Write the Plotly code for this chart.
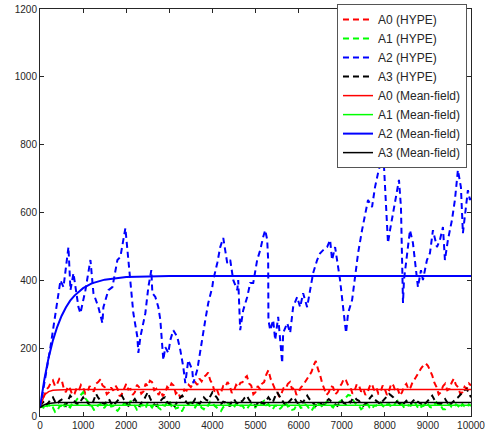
import plotly.graph_objects as go

# ---- stochastic (HYPE) trajectories, 50-step sampling ----
t_hype = list(range(0, 10001, 50))

a0_hype = [25, 48, 60, 78, 85, 98, 105, 88, 95, 110, 108, 82, 70, 88, 80, 62, 65, 82, 75, 92,
           85, 66, 70, 88, 80, 72, 95, 100, 108, 90, 85, 64, 70, 84, 75, 90, 80, 58, 65, 82,
           95, 78, 80, 62, 70, 92, 85, 66, 72, 95, 88, 104, 100, 76, 80, 62, 75, 58, 68, 86,
           80, 96, 90, 66, 72, 55, 60, 78, 75, 92, 85, 96, 100, 92, 110, 102, 115, 120, 128, 105,
           95, 72, 80, 62, 70, 88, 85, 100, 90, 68, 75, 92, 85, 98, 100, 112, 118, 96, 90, 64,
           70, 88, 80, 95, 100, 122, 135, 110, 95, 80, 75, 56, 65, 82, 80, 95, 100, 78, 85, 62,
           70, 84, 90, 100, 110, 122, 130, 150, 162, 138, 120, 95, 80, 62, 70, 88, 85, 64, 70, 86,
           95, 110, 105, 90, 85, 66, 75, 94, 90, 72, 80, 62, 70, 88, 95, 76, 85, 66, 70, 90,
           80, 62, 75, 96, 90, 72, 80, 60, 70, 88, 95, 78, 85, 102, 110, 122, 130, 142, 150, 155,
           148, 132, 120, 98, 85, 64, 70, 88, 95, 76, 80, 98, 110, 92, 85, 66, 70, 86, 80, 96,
           90]

a1_hype = [25, 30, 20, 28, 35, 22, 25, 12, 15, 28, 30, 22, 40, 30, 25, 38, 35, 48, 55, 62,
           70, 52, 45, 36, 30, 18, 20, 32, 35, 22, 25, 34, 40, 28, 30, 20, 15, 24, 25, 38,
           35, 28, 45, 36, 30, 18, 20, 34, 30, 22, 40, 32, 25, 36, 35, 24, 20, 32, 30, 40,
           45, 30, 35, 22, 25, 14, 15, 28, 30, 38, 40, 28, 25, 36, 35, 24, 20, 32, 30, 42,
           40, 30, 25, 18, 15, 26, 30, 38, 35, 24, 25, 36, 40, 30, 30, 20, 20, 30, 35, 26,
           25, 36, 30, 40, 45, 32, 35, 24, 20, 30, 30, 20, 25, 34, 40, 28, 30, 18, 20, 32,
           35, 24, 25, 34, 30, 20, 15, 26, 25, 36, 35, 26, 30, 42, 40, 30, 25, 36, 35, 42,
           45, 50, 55, 62, 60, 48, 40, 32, 30, 20, 25, 32, 35, 24, 20, 30, 30, 38, 40, 30,
           25, 34, 35, 26, 30, 38, 45, 36, 35, 24, 25, 32, 30, 40, 40, 28, 20, 28, 30, 40,
           35, 26, 25, 34, 40, 30, 30, 20, 20, 30, 35, 26, 25, 34, 30, 22, 35, 28, 25, 34,
           30]

a3_hype = [30, 38, 45, 34, 40, 50, 55, 42, 35, 44, 48, 36, 30, 46, 60, 52, 45, 36, 35, 46,
           55, 44, 40, 32, 30, 48, 65, 54, 45, 38, 35, 44, 50, 38, 30, 38, 45, 54, 60, 48,
           40, 30, 35, 44, 50, 40, 30, 38, 45, 58, 70, 54, 40, 34, 30, 38, 45, 52, 55, 42,
           35, 30, 25, 34, 45, 54, 60, 48, 40, 34, 30, 40, 50, 42, 35, 46, 55, 48, 45, 58,
           70, 62, 55, 44, 35, 42, 40, 32, 30, 42, 50, 40, 35, 42, 45, 54, 60, 48, 40, 34,
           30, 38, 45, 38, 35, 46, 55, 46, 40, 56, 70, 60, 50, 38, 30, 38, 45, 52, 55, 42,
           35, 44, 40, 52, 60, 50, 45, 36, 30, 36, 40, 32, 35, 44, 50, 44, 40, 34, 30, 38,
           45, 38, 35, 44, 40, 50, 55, 48, 45, 36, 30, 36, 40, 52, 60, 50, 45, 38, 35, 44,
           50, 58, 65, 60, 55, 46, 40, 34, 30, 38, 45, 38, 35, 44, 50, 44, 40, 34, 30, 38,
           45, 54, 60, 48, 40, 36, 35, 44, 50, 40, 30, 38, 45, 50, 55, 62, 70, 76, 80, 66,
           55]

# A2 trajectory, sampled at its turning points
t_a2 = [0, 12, 243, 359, 475, 545, 660, 707, 776, 892, 938, 1054, 1170, 1240,
        1355, 1448, 1471, 1587, 1680, 1796, 1865, 1981, 2027, 2097, 2166, 2259,
        2282, 2329, 2444, 2514, 2583, 2607, 2676, 2746, 2792, 2861, 2908, 2977,
        3024, 3093, 3186, 3255, 3325, 3371, 3440, 3533, 3557, 3649, 3765, 3835,
        3904, 3997, 4020, 4113, 4182, 4252, 4344, 4414, 4483, 4576, 4599, 4645,
        4715, 4808, 4877, 4947, 5039, 5109, 5178, 5225, 5271, 5294, 5300, 5341,
        5410, 5457, 5526, 5619, 5642, 5735, 5804, 5873, 5966, 6036, 6105, 6198,
        6267, 6337, 6430, 6499, 6569, 6661, 6731, 6777, 6847, 6916, 6962, 7032,
        7101, 7148, 7241, 7310, 7380, 7472, 7542, 7611, 7704, 7773, 7843, 7935,
        7982, 8005, 8051, 8074, 8121, 8190, 8283, 8329, 8375, 8399, 8422, 8445,
        8515, 8584, 8653, 8723, 8769, 8839, 8885, 8978, 9047, 9117, 9210, 9279,
        9349, 9395, 9464, 9557, 9627, 9696, 9766, 9812, 9882, 9928, 9975, 10000]
a2_hype = [25, 30, 204, 303, 400, 380, 498, 371, 421, 321, 303, 371, 460, 362,
           321, 274, 321, 371, 380, 460, 469, 554, 489, 401, 303, 233,
           186, 233, 303, 380, 430, 362, 351, 321, 283, 165, 203, 186,
           224, 253, 233, 195, 144, 97, 165, 136, 97, 136, 233, 283,
           333, 380, 401, 451, 498, 525, 451, 460, 401, 371, 401, 253,
           312, 351, 392, 392, 460, 489, 528, 548, 520, 460, 283, 253,
           283, 224, 292, 156, 245, 274, 245, 321, 351, 321, 362, 321,
           371, 421, 460, 480, 489, 498, 519, 460, 498, 439, 401, 321,
           245, 303, 342, 410, 480, 548, 598, 637, 616, 675, 716, 763,
           734, 675, 598, 510, 548, 598, 657, 696, 616, 460, 333, 401,
           480, 548, 510, 439, 380, 430, 401, 460, 480, 548, 498, 519,
           557, 460, 519, 577, 637, 725, 675, 539, 616, 666, 637, 650]

# ---- mean-field solutions ----
t_mf = [0, 100, 200, 300, 400, 500, 600, 700, 800, 1000, 1200, 1500, 2000,
        2500, 3000, 10000]
a0_mf = [25, 62, 72, 76, 77, 78, 78, 78, 78, 78, 78, 78, 78, 78, 78, 78]
a1_mf = [25, 29, 31, 32, 32, 32, 32, 32, 32, 32, 32, 32, 32, 32, 32, 32]
a2_mf = [25, 107, 172, 223, 263, 295, 320, 340, 355, 377, 391, 402, 410,
         412, 413, 413]
a3_mf = [25, 33, 37, 39, 40, 40, 40, 40, 40, 40, 40, 40, 40, 40, 40, 40]

names = ["A0", "A1", "A2", "A3"]
colors = ["#ff0000", "#00ff00", "#0000ff", "#000000"]
hype_t = [t_hype, t_hype, t_a2, t_hype]
hype_v = [a0_hype, a1_hype, a2_hype, a3_hype]
mf_v = [a0_mf, a1_mf, a2_mf, a3_mf]

x_ticks = list(range(0, 10001, 1000))
x_labels = [str(v) for v in x_ticks]
y_ticks = list(range(0, 1201, 200))
y_labels = [str(v) for v in y_ticks]

fig = go.Figure()
for n, c, tt, vv in zip(names, colors, hype_t, hype_v):
    fig.add_trace(go.Scatter(x=tt, y=vv, mode="lines", name=f"{n} (HYPE)",
                             line=dict(color=c, width=2, dash="6px,4px")))
for n, c, vv in zip(names, colors, mf_v):
    fig.add_trace(go.Scatter(x=t_mf, y=vv, mode="lines", name=f"{n} (Mean-field)",
                             line=dict(color=c, width=2 if n == "A2" else 1.5)))

axis_common = dict(showline=True, linecolor="#262626", linewidth=1, mirror="ticks",
                   ticks="inside", ticklen=4, tickcolor="#262626", showgrid=False,
                   zeroline=False, ticklabeloverflow="allow", automargin=False,
                   tickfont=dict(family="Liberation Sans", size=10, color="#262626"))
fig.update_xaxes(range=[0, 10000], tickvals=x_ticks, ticktext=x_labels, **axis_common)
fig.update_yaxes(range=[0, 1200], tickvals=y_ticks, ticktext=y_labels, **axis_common)

fig.update_layout(
    width=485, height=436,
    margin=dict(l=40, r=14, t=9, b=20, autoexpand=False),
    plot_bgcolor="white", paper_bgcolor="white",
    font=dict(family="Liberation Sans", size=12, color="#262626"),
    legend=dict(x=0.9907, y=1.012, xanchor="right", yanchor="top",
                bgcolor="white", bordercolor="#555555", borderwidth=1,
                font=dict(size=12, color="#262626"), tracegroupgap=0),
    showlegend=True,
)

fig.write_html("out.html")
